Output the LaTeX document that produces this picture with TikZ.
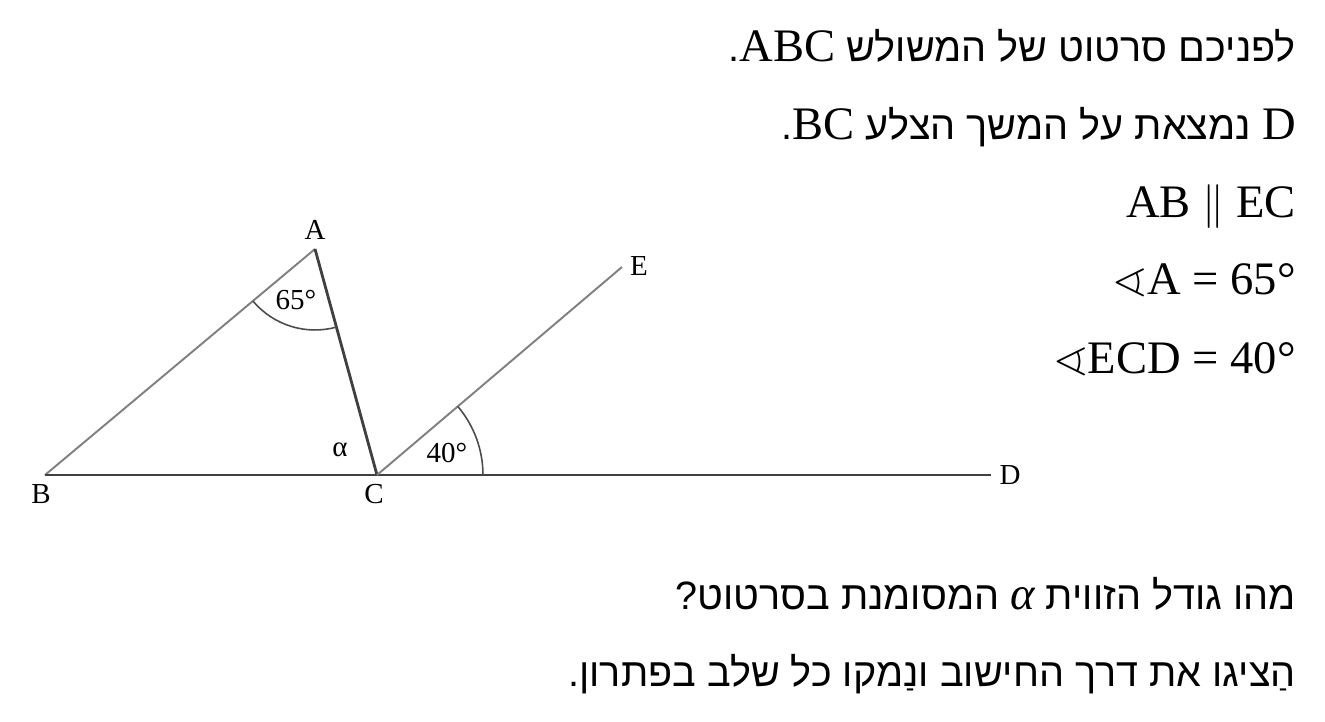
\documentclass[tikz,border=0pt]{standalone}
\usepackage{amssymb}
\usepackage{fontspec}
\setmainfont{Liberation Serif}
\newfontfamily\hebfont[Script=Hebrew,Scale=0.85]{Liberation Sans}
\TeXXeTstate=1
\usetikzlibrary{calc}

\begin{document}
\begin{tikzpicture}[x=0.02cm,y=0.02cm,
		side/.style = {draw=black!50, line width=1.1pt},
		bold/.style = {draw=black!75, line width=1.6pt},
		angarc/.style = {draw=black!70, line width=0.9pt},
		lbl/.style = {font=\fontsize{16.5}{18}\selectfont, inner sep=0pt},
		txt/.style = {font=\fontsize{26.5}{30}\selectfont, anchor=base east, inner sep=0pt}]
	\useasboundingbox (0,0) rectangle (1325,721);
	\coordinate (A) at (315,472);
	\coordinate (B) at (45,246);
	\coordinate (C) at (377,246);
	\coordinate (D) at (991,246);
	\coordinate (E) at (622,454);
	\draw [side] (A) -- (B);
	\draw [bold] (A) -- (C);
	\draw [bold] (B) -- (D);
	\draw [side] (C) -- (E);
	\draw [angarc] ($(A)+(219.9:1.62cm)$) arc[start angle=219.9, end angle=285.3, radius=1.62cm];
	\draw [angarc] ($(C)+(0:2.12cm)$) arc[start angle=0, end angle=40.3, radius=2.12cm];
	\begin{scope}[every node/.style={lbl}]
		\node (lA) at (315,491) {A};
		\node (lB) at (41,227) {B};
		\node (lC) at (374,227) {C};
		\node (lD) at (1010,246) {D};
		\node (lE) at (639,455) {E};
		\node (a65) at (296,421) {65°};
		\node (alpha) at (340,271) {α};
		\node (a40) at (447,268) {40°};
	\end{scope}
	\begin{scope}[every node/.style={txt}]
		\node (t1) at (1296,659) {\hebfont\beginR לפניכם סרטוט של המשולש \beginL{\rmfamily ABC}\endL.\endR};
		\node (t2) at (1296,581) {\hebfont\beginR\beginL{\rmfamily D}\endL{} נמצאת על המשך הצלע \beginL{\rmfamily BC}\endL.\endR};
		\node (t3) at (1296,503) {AB $\parallel$ EC};
		\node (t4) at (1296,426) {$\sphericalangle$A = 65°};
		\node (t5) at (1296,348) {$\sphericalangle$ECD = 40°};
		\node (t6) at (1296,112) {\hebfont\beginR מהו גודל הזווית \beginL{\rmfamily\itshape α}\endL{} המסומנת בסרטוט?\endR};
		\node (t7) at (1296,35) {\hebfont\beginR הַציגו את דרך החישוב ונַמקו כל שלב בפתרון.\endR};
	\end{scope}
\end{tikzpicture}
\end{document}
